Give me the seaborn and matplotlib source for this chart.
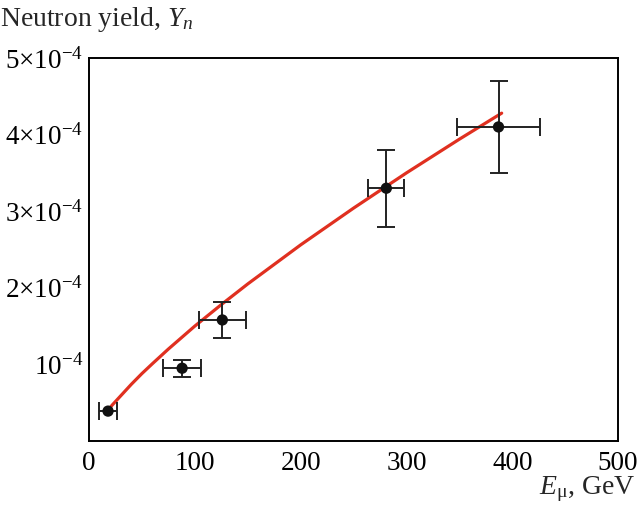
import matplotlib
matplotlib.use('Agg')
import numpy as np
import pandas as pd
import seaborn as sns
import matplotlib.pyplot as plt

# measured points
energy = [18, 88, 126, 281, 387]
energy_err = [8.5, 18, 22, 17, 39]
yield_n = [0.39e-4, 0.95e-4, 1.58e-4, 3.30e-4, 4.10e-4]
yield_err = [0.0, 0.11e-4, 0.24e-4, 0.50e-4, 0.60e-4]

# fitted curve
fit_e = [18, 22, 26, 30, 40, 50, 60, 75, 100, 125, 150, 200, 250, 300, 350, 390]
fit_y = [0.40e-4, 0.47e-4, 0.53e-4, 0.59e-4, 0.74e-4, 0.88e-4, 1.01e-4,
         1.20e-4, 1.50e-4, 1.78e-4, 2.05e-4, 2.56e-4, 3.04e-4, 3.50e-4,
         3.94e-4, 4.28e-4]

ytick_vals = [1e-4, 2e-4, 3e-4, 4e-4, 5e-4]
ytick_labels = [r'$10^{-4}$', r'$2{\times}10^{-4}$', r'$3{\times}10^{-4}$',
                r'$4{\times}10^{-4}$', r'$5{\times}10^{-4}$']
xtick_vals = [0, 100, 200, 300, 400, 500]

sns.set_style('white')
plt.rcParams['font.family'] = ['Liberation Serif', 'DejaVu Serif']
plt.rcParams['mathtext.fontset'] = 'custom'
plt.rcParams['mathtext.rm'] = 'Liberation Serif'
plt.rcParams['mathtext.it'] = 'Liberation Serif:italic'

fig = plt.figure(figsize=(6.37, 5.12), dpi=100)
ax = fig.add_axes([0.1397, 0.1387, 0.8306, 0.748])

df_fit = pd.DataFrame({'E': fit_e, 'Y': fit_y})
sns.lineplot(x='E', y='Y', data=df_fit, ax=ax, color='#e03020', lw=2.3)

ax.errorbar(energy, yield_n, xerr=energy_err, yerr=yield_err, fmt='none',
            ecolor='#222222', elinewidth=1.4, capsize=6.5, capthick=1.4)
df_pts = pd.DataFrame({'E': energy, 'Y': yield_n})
sns.scatterplot(x='E', y='Y', data=df_pts, ax=ax, color='#111111', s=66,
                edgecolor='none', zorder=5)

ax.set_xlim(0, 500)
ax.set_ylim(0, 5e-4)
ax.set_xticks(xtick_vals)
ax.set_xticklabels([str(v) for v in xtick_vals])
ax.set_yticks(ytick_vals)
ax.set_yticklabels(ytick_labels)
ax.tick_params(direction='in', length=7, width=1.3, labelsize=19.5, pad=7,
               colors='black')
ax.tick_params(axis='y', pad=4)
for s in ax.spines.values():
    s.set_color('black')
    s.set_linewidth(1.4)

ax.set_xlabel('')
ax.set_ylabel('')
fig.text(0.0, 0.962, r'Neutron yield, $Y_n$', fontsize=20, va='center', ha='left')
fig.text(0.998, 0.045, r'$E_\mathrm{\mu}$, GeV', fontsize=20, va='center', ha='right')

fig.savefig('out.png', dpi=100)
